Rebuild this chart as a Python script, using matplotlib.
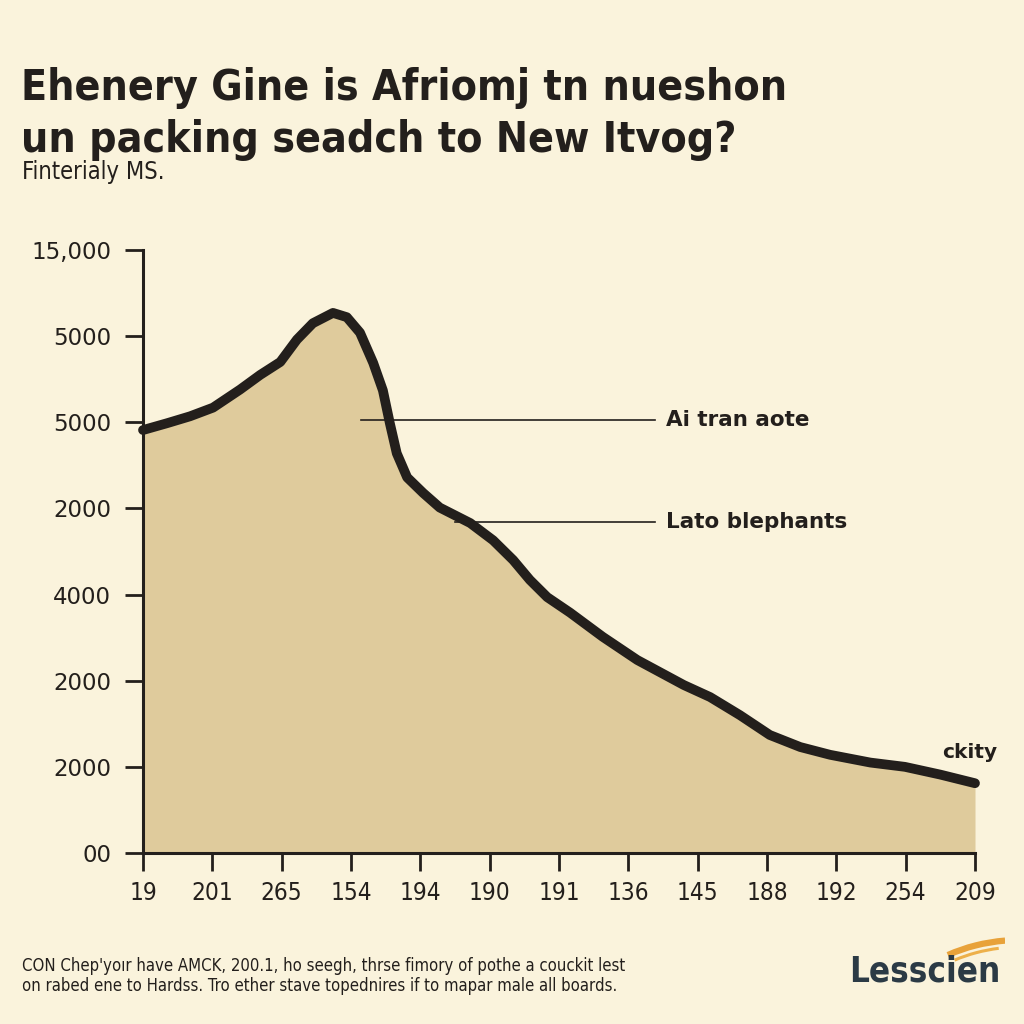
import matplotlib
matplotlib.use("Agg")
import matplotlib.pyplot as plt
from matplotlib.patches import Arc
import numpy as np

# ---- data ----
x_labels = ["19", "201", "265", "154", "194", "190", "191", "136", "145", "188", "192", "254", "209"]
y_labels = ["00", "2000", "2000", "4000", "2000", "5000", "5000", "15,000"]

curve_x = [0, 0.35, 0.68, 1.01, 1.40, 1.69, 1.98, 2.22, 2.45, 2.74, 2.94, 3.13, 3.32,
           3.46, 3.56, 3.66, 3.81, 4.04, 4.28, 4.72, 5.05, 5.34, 5.58, 5.83, 6.16, 6.63,
           7.13, 7.80, 8.18, 8.61, 9.04, 9.48, 9.91, 10.49, 10.99, 11.50, 12.0]
curve_y = [4.91, 4.99, 5.07, 5.17, 5.38, 5.55, 5.70, 5.96, 6.15, 6.27, 6.22, 6.04, 5.69,
           5.37, 4.99, 4.64, 4.36, 4.18, 4.01, 3.83, 3.63, 3.40, 3.17, 2.97, 2.79, 2.51,
           2.24, 1.95, 1.81, 1.60, 1.37, 1.23, 1.14, 1.05, 1.00, 0.91, 0.81]

annotations = ["Ai tran aote", "Lato blephants", "ckity"]

title_lines = ["Ehenery Gine is Afriomj tn nueshon", "un packing seadch to New Itvog?"]
subtitle = "Finterialy MS."
footer = ["CON Chep'yoır have AMCK, 200.1, ho seegh, thrse fimory of pothe a couckit lest",
          "on rabed ene to Hardss. Tro ether stave topednires if to mapar male all boards."]
logo = "Lesscien"

# ---- style ----
BG = "#FAF3DC"
FILL = "#DFCB9C"
INK = "#231F1C"
plt.rcParams['font.family'] = ['DejaVu Sans']
COND = dict(fontfamily='DejaVu Sans', fontstretch='condensed')

fig = plt.figure(figsize=(10.24, 10.24), dpi=100, facecolor=BG)
ax = fig.add_axes([143/1024, 1 - 853/1024, 832/1024, 603/1024])
ax.set_facecolor(BG)
ax.patch.set_alpha(0)

ax.fill_between(curve_x, 0, curve_y, color=FILL, lw=0, zorder=1)
ax.plot(curve_x, curve_y, color=INK, lw=7, solid_capstyle='round', solid_joinstyle='round',
        zorder=3, clip_on=False)

ax.set_xlim(0, 12)
ax.set_ylim(0, 7)
ax.set_xticks(range(len(x_labels)))
ax.set_xticklabels(x_labels, fontsize=17.5, **COND)
ax.set_yticks(range(len(y_labels)))
ax.set_yticklabels(y_labels, fontsize=16.5, fontfamily='DejaVu Sans')
ax.tick_params(axis='both', colors=INK, width=2, length=13, pad=10)
ax.tick_params(axis='x', pad=7)
for s in ['top', 'right']:
    ax.spines[s].set_visible(False)
for s in ['left', 'bottom']:
    ax.spines[s].set_color(INK)
    ax.spines[s].set_linewidth(2.2)
    ax.spines[s].set_zorder(4)

# annotations with leader lines
ax.plot([3.15, 7.38], [5.03, 5.03], color=INK, lw=1.2, zorder=2)
ax.text(7.55, 5.03, annotations[0], fontsize=15.5, fontweight='bold', color=INK,
        va='center', ha='left', fontfamily='DejaVu Sans')
ax.plot([4.5, 7.38], [3.84, 3.84], color=INK, lw=1.2, zorder=2)
ax.text(7.55, 3.84, annotations[1], fontsize=15.5, fontweight='bold', color=INK,
        va='center', ha='left', fontfamily='DejaVu Sans')
ax.text(11.52, 1.17, annotations[2], fontsize=14.5, fontweight='bold', color=INK,
        va='center', ha='left', fontfamily='DejaVu Sans', clip_on=False)

# titles
fig.text(21/1024, 1 - 88/1024, title_lines[0], fontsize=30.7, fontweight='bold', color=INK,
         va='center', ha='left', **COND)
fig.text(21/1024, 1 - 140/1024, title_lines[1], fontsize=30.7, fontweight='bold', color=INK,
         va='center', ha='left', **COND)
fig.text(22/1024, 1 - 172/1024, subtitle, fontsize=17, color=INK,
         va='center', ha='left', **COND)

# footer
fig.text(22/1024, 1 - 966/1024, footer[0], fontsize=12, color=INK,
         va='center', ha='left', **COND)
fig.text(22/1024, 1 - 986/1024, footer[1], fontsize=12, color=INK,
         va='center', ha='left', **COND)

# logo
fig.text(925/1024, 1 - 972/1024, logo, fontsize=25, color="#2B3A45", fontweight='bold',
         va='center', ha='center', **COND)
lax = fig.add_axes([880/1024, 1 - 962/1024, 125/1024, 25/1024])
lax.set_xlim(0, 125); lax.set_ylim(0, 25); lax.axis('off')
lax.add_patch(Arc((140, -100), 300, 244, theta1=97, theta2=124, color="#E8A23A", lw=4.5))
lax.add_patch(Arc((140, -107), 290, 244, theta1=100, theta2=121, color="#EDB04A", lw=2.2))

fig.savefig("out.png", dpi=100, facecolor=BG)
